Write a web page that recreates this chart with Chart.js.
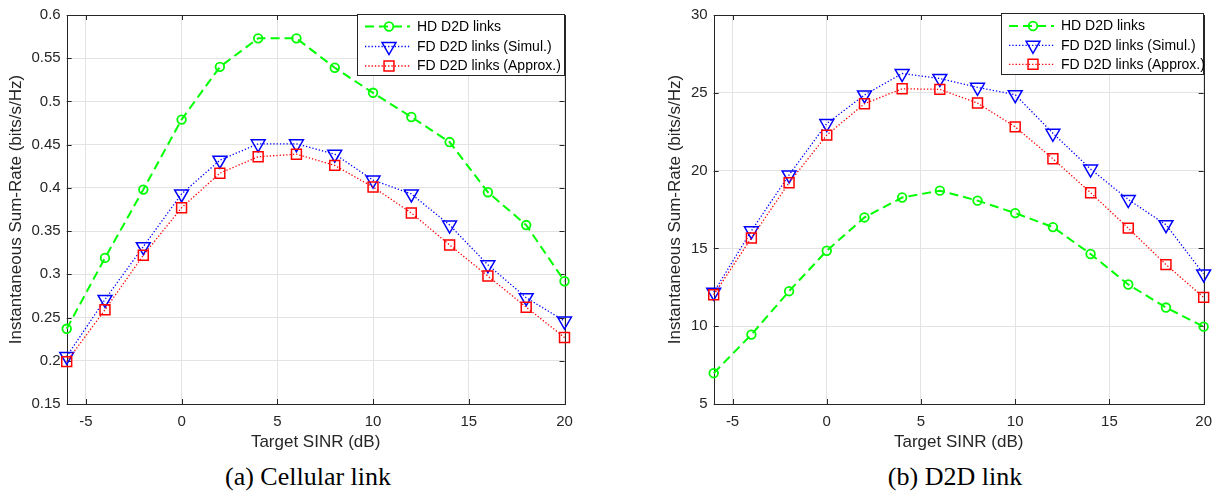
<!DOCTYPE html>
<html>
<head>
<meta charset="utf-8">
<script src="https://cdn.jsdelivr.net/npm/chart.js@4.4.1/dist/chart.umd.min.js"></script>
<style>
  body { margin: 0; background: #fff; width: 1221px; height: 498px; position: relative; overflow: hidden; }
  .panel { position: absolute; top: 0; height: 460px; }
  #panelA { left: 0; width: 610px; }
  #panelB { left: 610px; width: 611px; }
  .caption {
    position: absolute; top: 462px; transform: translateX(-50%); white-space: nowrap;
    font-family: "Liberation Serif", "Times New Roman", serif; font-size: 26px; color: #000;
  }
</style>
</head>
<body>
<div class="panel" id="panelA"><canvas id="chartA"></canvas></div>
<div class="panel" id="panelB"><canvas id="chartB"></canvas></div>
<div class="caption" style="left:308px">(a) Cellular link</div>
<div class="caption" style="left:955px">(b) D2D link</div>

<script>
// target SINR sweep (dB)
const sinr = [-6, -4, -2, 0, 2, 4, 6, 8, 10, 12, 14, 16, 18, 20];

// (a) cellular link sum-rate
const cellHD     = [0.237, 0.319, 0.398, 0.479, 0.540, 0.573, 0.573, 0.539, 0.510, 0.482, 0.453, 0.395, 0.357, 0.292];
const cellFDSim  = [0.205, 0.271, 0.332, 0.393, 0.432, 0.451, 0.451, 0.439, 0.409, 0.393, 0.357, 0.311, 0.273, 0.246];
const cellFDAppr = [0.199, 0.259, 0.322, 0.377, 0.417, 0.436, 0.439, 0.426, 0.401, 0.371, 0.334, 0.298, 0.262, 0.227];

// (b) D2D link sum-rate
const d2dHD     = [6.98, 9.46, 12.25, 14.85, 16.99, 18.27, 18.71, 18.07, 17.27, 16.37, 14.64, 12.68, 11.20, 9.97];
const d2dFDSim  = [12.18, 16.13, 19.72, 23.02, 24.86, 26.24, 25.92, 25.35, 24.88, 22.40, 20.10, 18.14, 16.52, 13.36];
const d2dFDAppr = [12.02, 15.67, 19.22, 22.28, 24.30, 25.26, 25.22, 24.34, 22.81, 20.76, 18.58, 16.30, 13.96, 11.85];

const seriesNames = ['HD D2D links', 'FD D2D links (Simul.)', 'FD D2D links (Approx.)'];

// tick values and labels
const xTicks = [-5, 0, 5, 10, 15, 20];
const xTickLabels = ['-5', '0', '5', '10', '15', '20'];
const yTicksA = [0.15, 0.2, 0.25, 0.3, 0.35, 0.4, 0.45, 0.5, 0.55, 0.6];
const yTickLabelsA = ['0.15', '0.2', '0.25', '0.3', '0.35', '0.4', '0.45', '0.5', '0.55', '0.6'];
const yTicksB = [5, 10, 15, 20, 25, 30];
const yTickLabelsB = ['5', '10', '15', '20', '25', '30'];

const ink = '#262626';
Chart.defaults.font.family = '"Liberation Sans", Arial, Helvetica, sans-serif';
Chart.defaults.color = ink;

const pts = ys => sinr.map((x, i) => ({ x: x, y: ys[i] }));

function makeDatasets(hd, sim, appr) {
  return [
    {
      label: seriesNames[0], data: pts(hd), order: 3,
      borderColor: '#00ff00', borderWidth: 2, borderDash: [9, 5],
      pointStyle: 'circle', pointRadius: 4.3, pointBorderWidth: 1.8,
      pointBorderColor: '#00ff00', pointBackgroundColor: 'rgba(0,0,0,0)'
    },
    {
      label: seriesNames[1], data: pts(sim), order: 2,
      borderColor: '#0000ff', borderWidth: 1.3, borderDash: [1.3, 2],
      pointStyle: 'triangle', pointRotation: 180, pointRadius: 8, pointBorderWidth: 1.5,
      pointBorderColor: '#0000ff', pointBackgroundColor: 'rgba(0,0,0,0)'
    },
    {
      label: seriesNames[2], data: pts(appr), order: 1,
      borderColor: '#ff0000', borderWidth: 1.3, borderDash: [1.3, 2],
      pointStyle: 'rect', pointRadius: 7, pointBorderWidth: 1.5,
      pointBorderColor: '#ff0000', pointBackgroundColor: 'rgba(0,0,0,0)'
    }
  ];
}

// box around the axes, inward tick marks and the legend in the upper right corner
const axesFrame = {
  id: 'axesFrame',
  beforeDatasetsDraw(chart) {
    const ctx = chart.ctx, a = chart.chartArea;
    const xs = chart.scales.x, ys = chart.scales.y;
    const len = 5;
    ctx.save();
    ctx.strokeStyle = ink;
    ctx.lineWidth = 1;
    ctx.beginPath();
    xs.ticks.forEach(t => {
      const px = Math.round(xs.getPixelForValue(t.value)) + 0.5;
      ctx.moveTo(px, a.bottom); ctx.lineTo(px, a.bottom - len);
      ctx.moveTo(px, a.top); ctx.lineTo(px, a.top + len);
    });
    ys.ticks.forEach(t => {
      const py = Math.round(ys.getPixelForValue(t.value)) + 0.5;
      ctx.moveTo(a.left, py); ctx.lineTo(a.left + len, py);
      ctx.moveTo(a.right, py); ctx.lineTo(a.right - len, py);
    });
    ctx.stroke();
    ctx.strokeRect(Math.round(a.left) + 0.5, Math.round(a.top) + 0.5,
      Math.round(a.right - a.left), Math.round(a.bottom - a.top));
    ctx.restore();
  },
  afterDraw(chart, args, opts) {
    const ctx = chart.ctx, a = chart.chartArea;
    const x0 = Math.round(a.right - opts.width), y0 = Math.round(a.top + opts.dy);
    ctx.save();
    ctx.fillStyle = '#fff';
    ctx.fillRect(x0, y0, opts.width, opts.height);
    ctx.strokeStyle = ink;
    ctx.lineWidth = 1;
    ctx.strokeRect(x0 + 0.5, y0 + 0.5, opts.width - 1, opts.height - 1);
    chart.data.datasets.forEach((ds, i) => {
      const y = y0 + opts.rows[i];
      ctx.strokeStyle = ds.borderColor;
      ctx.lineWidth = ds.borderWidth;
      ctx.setLineDash(ds.borderDash);
      ctx.beginPath();
      ctx.moveTo(x0 + 8, y);
      ctx.lineTo(x0 + 53, y);
      ctx.stroke();
      ctx.setLineDash([]);
      ctx.strokeStyle = ds.pointBorderColor;
      ctx.fillStyle = 'rgba(0,0,0,0)';
      ctx.lineWidth = ds.pointBorderWidth;
      Chart.helpers.drawPoint(ctx, {
        pointStyle: ds.pointStyle, radius: ds.pointRadius,
        rotation: ds.pointRotation || 0, borderWidth: ds.pointBorderWidth
      }, x0 + 32, y);
      ctx.fillStyle = '#000';
      ctx.font = '14px "Liberation Sans", Arial, sans-serif';
      ctx.textBaseline = 'middle';
      ctx.textAlign = 'left';
      ctx.fillText(ds.label, x0 + 60, y + 0.5);
    });
    ctx.restore();
  }
};

function makeChart(id, datasets, cfg) {
  return new Chart(document.getElementById(id), {
    type: 'line',
    data: { datasets: datasets },
    plugins: [axesFrame],
    options: {
      responsive: true,
      maintainAspectRatio: false,
      animation: false,
      datasets: { line: { clip: false, tension: 0 } },
      layout: { padding: { left: 0, right: cfg.padRight, top: 14, bottom: 0 } },
      plugins: {
        legend: { display: false },
        tooltip: { enabled: false },
        axesFrame: cfg.legend
      },
      scales: {
        x: {
          type: 'linear', min: -6, max: 20,
          afterBuildTicks: s => { s.ticks = xTicks.map(v => ({ value: v })); },
          afterFit: s => { s.height = 56; },
          ticks: {
            padding: 9, font: { size: 15 }, color: ink,
            callback: v => xTickLabels[xTicks.indexOf(v)]
          },
          grid: { color: '#e3e3e3', drawTicks: false },
          border: { display: false },
          title: {
            display: true, text: 'Target SINR (dB)', color: ink,
            font: { size: 17 }, padding: { top: 0, bottom: 7 }
          }
        },
        y: {
          type: 'linear', min: cfg.yMin, max: cfg.yMax,
          afterBuildTicks: s => { s.ticks = cfg.yTicks.map(v => ({ value: v })); },
          afterFit: s => { s.width = cfg.yWidth; },
          ticks: {
            padding: 6, font: { size: 15 }, color: ink,
            callback: v => cfg.yLabels[cfg.yTicks.indexOf(v)]
          },
          grid: { color: '#e3e3e3', drawTicks: false },
          border: { display: false },
          title: {
            display: true, text: 'Instantaneous Sum-Rate (bits/s/Hz)', color: ink,
            font: { size: 17 }, padding: { top: cfg.yTitlePad, bottom: 0 }
          }
        }
      }
    }
  });
}

makeChart('chartA', makeDatasets(cellHD, cellFDSim, cellFDAppr), {
  yMin: 0.15, yMax: 0.6, yTicks: yTicksA, yLabels: yTickLabelsA,
  yWidth: 66.7, yTitlePad: 6.4, padRight: 45.5,
  legend: { width: 208, height: 62, dy: -1.5, rows: [12.5, 32.5, 52] }
});

makeChart('chartB', makeDatasets(d2dHD, d2dFDSim, d2dFDAppr), {
  yMin: 5, yMax: 30, yTicks: yTicksB, yLabels: yTickLabelsB,
  yWidth: 103.7, yTitlePad: 55.3, padRight: 10.5,
  legend: { width: 203, height: 62, dy: -2.3, rows: [13, 32.3, 51.3] }
});
</script>
</body>
</html>
